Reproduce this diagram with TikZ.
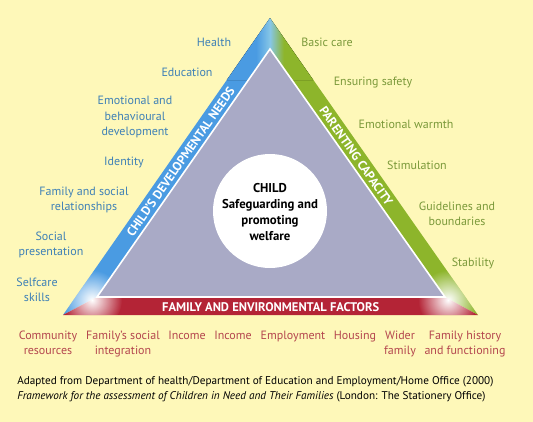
\documentclass[tikz,border=0pt]{standalone}
\usepackage{fontspec}
\setmainfont{PT Sans}
\usetikzlibrary{fadings}

\definecolor{paper}{HTML}{FEF8B9}
\definecolor{needblue}{HTML}{4A9BE2}
\definecolor{parentgreen}{HTML}{8DB52B}
\definecolor{familyred}{HTML}{B42436}
\definecolor{apexlight}{HTML}{86C6E6}
\definecolor{innergrey}{HTML}{A9AAC6}
\definecolor{needtext}{HTML}{3E80B6}
\definecolor{parenttext}{HTML}{7B993A}
\definecolor{familytext}{HTML}{B4464E}

\pgfdeclarehorizontalshading{apexshade}{100bp}{color(0bp)=(needblue); color(42bp)=(needblue); color(50bp)=(apexlight); color(58bp)=(parentgreen); color(100bp)=(parentgreen)}
\tikzfading[name=glow, inner color=transparent!0, outer color=transparent!100]

\tikzset{
  needs/.style={text=needtext, align=center, font=\fontsize{9}{11.5}\selectfont},
  parenting/.style={text=parenttext, align=center, font=\fontsize{9}{11.5}\selectfont},
  factors/.style={text=familytext, align=center, font=\fontsize{9}{11.5}\selectfont, anchor=north},
  bandlabel/.style={text=white, font=\fontsize{9.4}{10}\selectfont\bfseries, inner sep=0pt}
}

\begin{document}
\begin{tikzpicture}[x=0.75pt, y=-0.75pt]
            \fill[paper] (0,0) rectangle (533,422);
            \useasboundingbox (0,0) rectangle (533,422);

            % bands
            \fill[needblue] (270,18) -- (63,315) -- (97,297) -- (270,49) -- cycle;
            \fill[parentgreen] (270,18) -- (478,315) -- (445,297) -- (270,49) -- cycle;
            \fill[familyred] (63,315) -- (478,315) -- (445,297) -- (97,297) -- cycle;
            \fill[shading=apexshade] (226.8,80) -- (270,18) -- (313.2,80) -- (291.6,80) -- (270,49) -- (248.4,80) -- cycle;
            \begin{scope}
              \clip (270,18) -- (63,315) -- (478,315) -- cycle;
              \fill[white, path fading=glow] (92,300) circle (30);
              \fill[white, path fading=glow] (448,300) circle (30);
            \end{scope}

            % inner triangle
            \filldraw[fill=innergrey, draw=white, line width=1.2pt] (270,49) -- (97,297) -- (445,297) -- cycle;
            \fill[white] (270,211) circle (57);
            \node[align=center, inner sep=0pt, font=\fontsize{9.6}{12}\selectfont\bfseries] (child) at (270,212)
                  {CHILD\\Safeguarding and\\promoting\\welfare};

            \path (80,306) -- (270,33.5) node[bandlabel, sloped, pos=0.53] (needsband) {CHILD’S DEVELOPMENTAL NEEDS};
            \path (270,33.5) -- (461.5,306) node[bandlabel, sloped, pos=0.45] (parentband) {PARENTING CAPACITY};
            \path (80,307) -- (461.5,307) node[bandlabel, pos=0.5] (familyband) {FAMILY AND ENVIRONMENTAL FACTORS};

            % child's needs
            \node[needs] (health) at (214,42) {Health};
            \node[needs] (education) at (187,72) {Education};
            \node[needs] (emotional) at (135,117) {Emotional and\\behavioural\\development};
            \node[needs] (identity) at (124,162) {Identity};
            \node[needs] (relations) at (84,200) {Family and social\\relationships};
            \node[needs] (presentation) at (51,245) {Social\\presentation};
            \node[needs] (selfcare) at (37,290) {Selfcare\\skills};

            % parenting capacity
            \node[parenting] (basiccare) at (327,42) {Basic care};
            \node[parenting] (safety) at (373,83) {Ensuring safety};
            \node[parenting] (warmth) at (406,124) {Emotional warmth};
            \node[parenting] (stimulation) at (417,165) {Stimulation};
            \node[parenting] (guidelines) at (457,214) {Guidelines and\\boundaries};
            \node[parenting] (stability) at (473,263) {Stability};

            % family and environmental factors
            \node[factors] (community) at (48,326) {Community\\resources};
            \node[factors] (integration) at (123,326) {Family’s social\\integration};
            \node[factors] (income) at (187,326) {Income};
            \node[factors] (incomeb) at (233,326) {Income};
            \node[factors] (employment) at (293,326) {Employment};
            \node[factors] (housing) at (355,326) {Housing};
            \node[factors] (wider) at (400,326) {Wider\\family};
            \node[factors] (history) at (465,326) {Family history\\and functioning};

            \node[anchor=west, align=left, inner sep=0pt, font=\fontsize{8.4}{11.25}\selectfont] (source) at (17,389.5)
                 {Adapted from Department of health/Department of Education and Employment/Home Office (2000)\\
                  \textit{Framework for the assessment of Children in Need and Their Families} (London: The Stationery Office)};
        \end{tikzpicture}
\end{document}
